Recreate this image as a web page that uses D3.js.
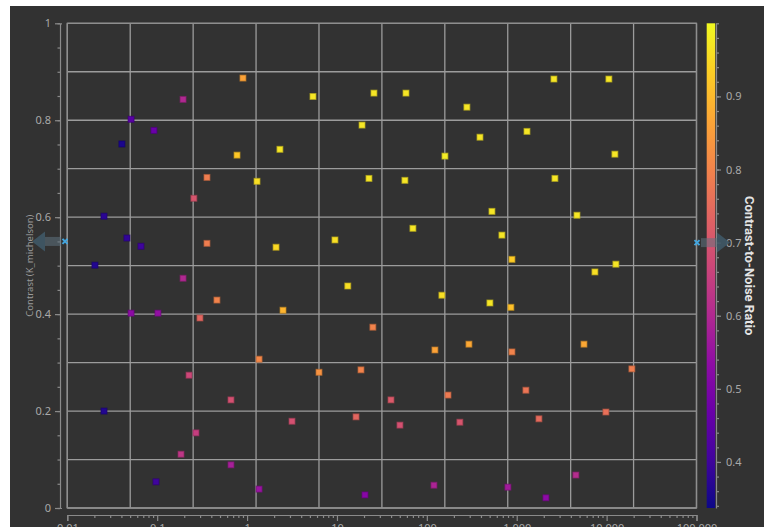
<!DOCTYPE html>
<html>
<head>
<meta charset="utf-8">
<script src="https://cdn.jsdelivr.net/npm/d3@7"></script>
<style>
  html, body { margin: 0; padding: 0; background: #ffffff; overflow: hidden; }
  svg { display: block; }
  text { font-family: "Noto Sans", "Open Sans", sans-serif; }
</style>
</head>
<body>
<svg id="chart" width="764" height="527"></svg>
<script>
// Measurements: x (log scale), Michelson contrast, contrast-to-noise ratio
const xValues = [
  0.90, 0.194, 0.0512, 0.092, 0.0405, 0.773, 2.32, 0.358, 1.29, 0.256,
  0.0256, 0.0461, 0.066, 0.358, 2.10, 0.0203, 0.194, 0.462, 0.0512, 0.102,
  0.299, 1.36, 0.226, 0.662, 0.0256, 0.270, 0.184, 0.662, 0.097, 1.36,
  5.41, 25.8, 58.6, 279, 19.0, 390, 159, 22.7, 57.0, 530,
  70.0, 9.5, 13.2, 147, 503, 2.51, 25.1, 123, 294, 6.31,
  18.5, 39.9, 172, 3.16, 16.3, 50.2, 233, 120, 20.5,
  2594, 10600, 1300, 12360, 2660, 4680, 684, 885, 12680, 7410,
  861, 5600, 885, 19100, 1265, 9820, 1766, 4550, 798, 2113
];
const contrast = [
  0.887, 0.843, 0.802, 0.779, 0.751, 0.728, 0.740, 0.682, 0.674, 0.639,
  0.602, 0.557, 0.540, 0.546, 0.538, 0.501, 0.474, 0.429, 0.402, 0.402,
  0.392, 0.307, 0.274, 0.223, 0.200, 0.155, 0.111, 0.089, 0.054, 0.039,
  0.849, 0.856, 0.856, 0.827, 0.790, 0.765, 0.726, 0.680, 0.676, 0.612,
  0.577, 0.553, 0.458, 0.439, 0.423, 0.408, 0.373, 0.326, 0.338, 0.280,
  0.285, 0.223, 0.233, 0.179, 0.188, 0.171, 0.177, 0.047, 0.027,
  0.885, 0.885, 0.777, 0.730, 0.680, 0.604, 0.563, 0.513, 0.503, 0.487,
  0.414, 0.338, 0.322, 0.287, 0.243, 0.198, 0.184, 0.068, 0.043, 0.021
];
const cnr = [
  0.86, 0.60, 0.44, 0.47, 0.35, 0.92, 0.97, 0.79, 0.96, 0.70,
  0.37, 0.38, 0.40, 0.79, 0.95, 0.36, 0.60, 0.80, 0.53, 0.54,
  0.74, 0.81, 0.67, 0.69, 0.36, 0.65, 0.63, 0.58, 0.40, 0.55,
  0.97, 0.97, 0.97, 0.97, 0.97, 0.97, 0.98, 0.97, 0.97, 0.97,
  0.97, 0.96, 0.96, 0.96, 0.97, 0.89, 0.80, 0.86, 0.87, 0.83,
  0.80, 0.71, 0.78, 0.69, 0.74, 0.69, 0.70, 0.59, 0.52,
  0.97, 0.97, 0.97, 0.97, 0.97, 0.97, 0.97, 0.93, 0.97, 0.96,
  0.91, 0.87, 0.80, 0.79, 0.77, 0.76, 0.75, 0.61, 0.57, 0.53
];

const xTickValues = [0.01, 0.1, 1, 10, 100, 1000, 10000, 100000];
const yTickValues = [0, 0.2, 0.4, 0.6, 0.8, 1];
const cnrTickValues = [0.4, 0.5, 0.6, 0.7, 0.8, 0.9];
const cnrDomain = [0.337, 1.0];

// Threshold handles
const contrastThreshold = 0.55;
const cnrThreshold = 0.7;

const yTitle = "Contrast (K_michelson)";
const cnrTitle = "Contrast-to-Noise Ratio";

const points = xValues.map((x, i) => ({ x, y: contrast[i], c: cnr[i] }));

const svg = d3.select("#chart");
const plot = { left: 67.3, right: 696.5, top: 23.3, bottom: 508 };

// dark panel
svg.append("rect")
  .attr("x", 10).attr("y", 6).attr("width", 754).attr("height", 521)
  .attr("fill", "#323232");

const x = d3.scaleLog().domain([0.01, 100000]).range([plot.left, plot.right]);
const y = d3.scaleLinear().domain([0, 1]).range([plot.bottom, plot.top]);
const color = d3.scaleSequential(d3.interpolatePlasma).domain(cnrDomain);
const gridX = d3.scaleLinear().domain([0, 10]).range([plot.left, plot.right]);

// grid
const grid = svg.append("g").attr("stroke", "#9c9c9c").attr("stroke-width", 1.3);
grid.selectAll("line.h").data(d3.range(0, 11).map(d => d / 10)).join("line")
  .attr("class", "h")
  .attr("x1", plot.left).attr("x2", plot.right)
  .attr("y1", d => y(d)).attr("y2", d => y(d));
grid.selectAll("line.v").data(d3.range(0, 11)).join("line")
  .attr("class", "v")
  .attr("y1", plot.top).attr("y2", plot.bottom)
  .attr("x1", d => gridX(d)).attr("x2", d => gridX(d));

// axes styling helper
function styleAxis(g) {
  g.selectAll("path.domain").attr("stroke", "#8a8a8a").attr("stroke-width", 1.2);
  g.selectAll(".tick line").attr("stroke", "#8a8a8a").attr("stroke-width", 1.2);
  g.selectAll(".tick text").attr("fill", "#a9a9a9")
    .style("font-size", "11px").style("font-family", "'Noto Sans', sans-serif");
}

// left axis (minor ticks then major)
const yMinor = svg.append("g").attr("transform", "translate(60,0)")
  .call(d3.axisLeft(y).tickValues(d3.range(0, 21).map(d => d / 20)).tickSize(2.5).tickSizeOuter(-2).tickFormat(""));
styleAxis(yMinor);
const yAxis = svg.append("g").attr("transform", "translate(60,0)")
  .call(d3.axisLeft(y).tickValues(yTickValues).tickSize(5).tickPadding(4)
    .tickFormat(d => d3.format("~g")(d)));
yAxis.select("path.domain").remove();
styleAxis(yAxis);

// bottom axis
const minorX = [];
xTickValues.slice(0, -1).forEach(d => { for (let k = 2; k <= 9; k++) minorX.push(d * k); });
const xMinor = svg.append("g").attr("transform", "translate(0,515)")
  .call(d3.axisBottom(x).tickValues(minorX).tickSize(3).tickSizeOuter(6).tickFormat(""));
styleAxis(xMinor);
const xAxis = svg.append("g").attr("transform", "translate(0,515)")
  .call(d3.axisBottom(x).tickValues(xTickValues).tickSize(6).tickPadding(3)
    .tickFormat(d => d >= 1 ? d3.format(",")(d) : String(d)));
xAxis.select("path.domain").remove();
styleAxis(xAxis);

// plot frame
svg.append("rect")
  .attr("x", plot.left).attr("y", plot.top)
  .attr("width", plot.right - plot.left).attr("height", plot.bottom - plot.top)
  .attr("fill", "none").attr("stroke", "#8e8e8e").attr("stroke-width", 1.3);

// points
svg.append("g").selectAll("rect").data(points).join("rect")
  .attr("x", d => x(d.x) - 3).attr("y", d => y(d.y) - 3)
  .attr("width", 6).attr("height", 6)
  .attr("fill", d => color(d.c))
  .attr("stroke", d => d3.color(color(d.c)).darker(0.9))
  .attr("stroke-opacity", 0.7)
  .attr("stroke-width", 1);

// colour bar
const cbar = { x: 706.7, w: 8.5 };
const cy = d3.scaleLinear().domain(cnrDomain).range([plot.bottom, plot.top]);
const defs = svg.append("defs");
const grad = defs.append("linearGradient").attr("id", "cnrGrad")
  .attr("x1", 0).attr("y1", 1).attr("x2", 0).attr("y2", 0);
d3.range(0, 11).forEach(i => {
  const t = i / 10;
  grad.append("stop").attr("offset", t)
    .attr("stop-color", color(cnrDomain[0] + t * (cnrDomain[1] - cnrDomain[0])));
});
svg.append("rect")
  .attr("x", cbar.x).attr("y", plot.top).attr("width", cbar.w)
  .attr("height", plot.bottom - plot.top).attr("fill", "url(#cnrGrad)");

const cMinorVals = d3.range(34, 101, 2).map(d => d / 100);
const cMinor = svg.append("g").attr("transform", "translate(716,0)")
  .call(d3.axisRight(cy).tickValues(cMinorVals).tickSize(3).tickSizeOuter(0).tickFormat(""));
styleAxis(cMinor);
const cAxis = svg.append("g").attr("transform", "translate(716,0)")
  .call(d3.axisRight(cy).tickValues(cnrTickValues).tickSize(5).tickPadding(5)
    .tickFormat(d3.format(".1f")));
cAxis.select("path.domain").remove();
styleAxis(cAxis);

// titles
svg.append("text")
  .attr("transform", `translate(33,${(plot.top + plot.bottom) / 2}) rotate(-90)`)
  .attr("text-anchor", "middle").attr("fill", "#9a9a9a")
  .style("font-size", "9.5px")
  .text(yTitle);
svg.append("text")
  .attr("transform", `translate(745,${(plot.top + plot.bottom) / 2}) rotate(90)`)
  .attr("text-anchor", "middle").attr("fill", "#e4e4e4")
  .style("font-size", "13px").style("font-weight", "bold")
  .style("font-family", "Roboto, 'Noto Sans', sans-serif")
  .text(cnrTitle);

// threshold handles
function handle(px, py, dir) {
  const g = svg.append("g").attr("transform", `translate(${px},${py})`);
  const s = dir;
  g.append("rect")
    .attr("x", s > 0 ? 4 : -20).attr("y", -4.5).attr("width", 16).attr("height", 9)
    .attr("fill", "#5f7380").attr("opacity", 0.55);
  g.append("path")
    .attr("d", `M${s * 20},-10 L${s * 33},0 L${s * 20},10 Z`)
    .attr("fill", "#3f5866").attr("opacity", 0.9);
  g.append("path")
    .attr("d", "M-2.5,-2.5L2.5,2.5M-2.5,2.5L2.5,-2.5")
    .attr("stroke", "#43a6df").attr("stroke-width", 2);
  return g;
}
handle(65, y(contrastThreshold), -1);
handle(697, cy(cnrThreshold), 1);
</script>
</body>
</html>
